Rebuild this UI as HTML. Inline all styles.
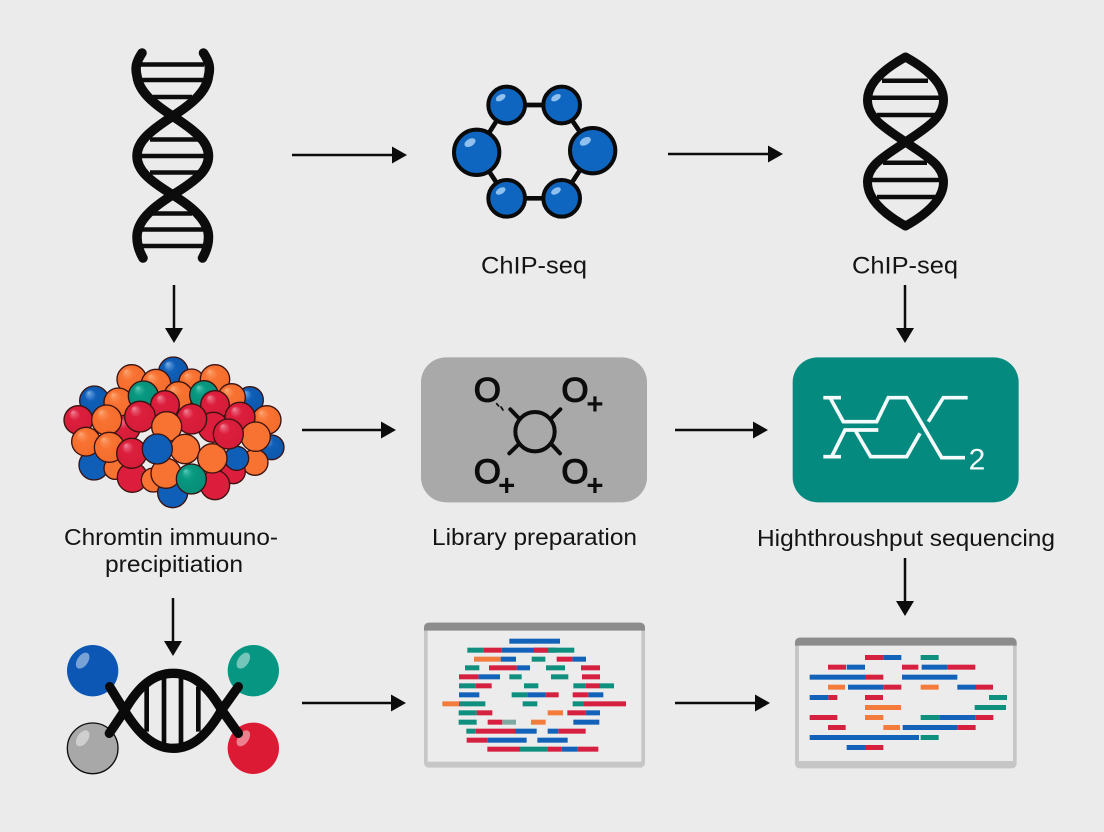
<!DOCTYPE html>
<html lang="en">
<head>
<meta charset="utf-8">
<title>ChIP-seq workflow</title>
<style>
html,body{margin:0;padding:0;background:#ebebeb;}
svg{display:block;}
text{font-family:"Liberation Sans",sans-serif;fill:#141414;}
</style>
</head>
<body>
<svg xmlns="http://www.w3.org/2000/svg" width="1104" height="832" viewBox="0 0 1104 832">
<defs>
<radialGradient id="bl" cx=".5" cy=".5" r=".55" fx=".3" fy=".22"><stop offset="0" stop-color="#7fb0e6"/><stop offset=".16" stop-color="#4a8ad4"/><stop offset=".36" stop-color="#0f5fb8"/><stop offset="1" stop-color="#0c56aa"/></radialGradient>
<radialGradient id="or" cx=".5" cy=".5" r=".55" fx=".3" fy=".22"><stop offset="0" stop-color="#fcab7c"/><stop offset=".18" stop-color="#fa8a4e"/><stop offset=".4" stop-color="#f87232"/><stop offset="1" stop-color="#f46c2c"/></radialGradient>
<radialGradient id="re" cx=".5" cy=".5" r=".55" fx=".3" fy=".22"><stop offset="0" stop-color="#f08a9c"/><stop offset=".16" stop-color="#e65069"/><stop offset=".36" stop-color="#dc1e3c"/><stop offset="1" stop-color="#d41c38"/></radialGradient>
<radialGradient id="gr" cx=".5" cy=".5" r=".55" fx=".3" fy=".22"><stop offset="0" stop-color="#5fd0bc"/><stop offset=".16" stop-color="#2aae98"/><stop offset=".36" stop-color="#089880"/><stop offset="1" stop-color="#068c78"/></radialGradient>
</defs>
<rect width="1104" height="832" fill="#ebebeb"/>

<!-- DNA 1 -->
<g fill="none" stroke="#0c0c0c" stroke-linecap="round">
<g stroke-width="4.500" stroke-linecap="butt">
<path d="M141 64.500H204M140 80H205M153 97H192M150 139.500H198M140 156H205M150 172.500H198M152 213.500H192M141 229.500H205M141 246H205"/>
</g>
<path stroke-width="9.500" d="M142 53C136 62 135 68 137 76C139 92 154 104 172.500 116C197 132 208.500 142 208.500 156C208.500 170 197 180 172.500 195C150 209 137 222 137 237C137 245 139 251 143 258"/>
<path stroke-width="9.500" d="M203.500 53C209.500 62 210.500 68 208.500 76C206.500 92 191.500 104 173 116C148.500 132 137 142 137 156C137 170 148.500 180 173 195C195.500 209 208.500 222 208.500 237C208.500 245 206.500 251 202.500 258"/>
</g>

<!-- Ring -->
<g transform="translate(440 70) scale(.33333)">
<path d="M200 105H365L458 242L365 385H200L110 247Z" fill="none" stroke="#0a0a0a" stroke-width="14"/>
<g fill="#0f66c0" stroke="#0a0a0a" stroke-width="12">
<circle cx="200" cy="105" r="55"/><circle cx="365" cy="105" r="55"/>
<circle cx="110" cy="247" r="68"/><circle cx="458" cy="242" r="68"/>
<circle cx="200" cy="385" r="55"/><circle cx="365" cy="385" r="55"/>
</g>
<g fill="#8fc0ee">
<ellipse cx="182" cy="83" rx="16" ry="9" transform="rotate(-30 182 83)"/>
<ellipse cx="348" cy="83" rx="16" ry="9" transform="rotate(-30 348 83)"/>
<ellipse cx="90" cy="218" rx="18" ry="11" transform="rotate(-30 90 218)"/>
<ellipse cx="436" cy="214" rx="18" ry="11" transform="rotate(-30 436 214)"/>
<ellipse cx="182" cy="363" rx="16" ry="9" transform="rotate(-30 182 363)"/>
<ellipse cx="348" cy="363" rx="16" ry="9" transform="rotate(-30 348 363)"/>
</g>
</g>

<!-- DNA 2 -->
<g fill="none" stroke="#0c0c0c">
<path stroke-width="4.500" d="M882 80.700H928M872 97.700H939M877 115H935M883 162.700H927M872 180H939M877 197H935"/>
<path stroke-width="9" stroke-linejoin="round" d="M905.500 57C882 70 867.500 84 867.500 100C867.500 118 885 128 905.500 142C926 156 943.500 165 943.500 182C943.500 198 929 213 905.500 226C882 213 867.500 198 867.500 182C867.500 165 885 156 905.500 142C926 128 943.500 118 943.500 100C943.500 84 929 70 905.500 57Z"/>
</g>

<!-- Top labels -->
<text x="481" y="273.500" font-size="24" textLength="106" lengthAdjust="spacingAndGlyphs">ChIP-seq</text>
<text x="852" y="273.500" font-size="24" textLength="106" lengthAdjust="spacingAndGlyphs">ChIP-seq</text>

<!-- Cluster -->
<g transform="translate(50 340) scale(.33333)" stroke="#3a1210" stroke-width="4">
<circle cx="370" cy="95" r="44" fill="url(#bl)"/>
<circle cx="245" cy="118" r="44" fill="url(#or)"/>
<circle cx="318" cy="132" r="44" fill="url(#or)"/>
<circle cx="425" cy="125" r="38" fill="url(#or)"/>
<circle cx="495" cy="118" r="44" fill="url(#or)"/>
<circle cx="133" cy="182" r="44" fill="url(#bl)"/>
<circle cx="600" cy="180" r="40" fill="url(#bl)"/>
<circle cx="205" cy="187" r="43" fill="url(#or)"/>
<circle cx="545" cy="172" r="41" fill="url(#or)"/>
<circle cx="385" cy="168" r="43" fill="url(#or)"/>
<circle cx="280" cy="168" r="45" fill="url(#gr)"/>
<circle cx="462" cy="165" r="43" fill="url(#gr)"/>
<circle cx="85" cy="240" r="43" fill="url(#re)"/>
<circle cx="650" cy="240" r="43" fill="url(#or)"/>
<circle cx="665" cy="322" r="37" fill="url(#bl)"/>
<circle cx="132" cy="375" r="45" fill="#0f5fb8"/>
<circle cx="615" cy="367" r="39" fill="#f87232"/>
<circle cx="108" cy="305" r="43" fill="url(#or)"/>
<circle cx="230" cy="265" r="40" fill="url(#re)"/>
<circle cx="345" cy="195" r="43" fill="url(#re)"/>
<circle cx="495" cy="195" r="43" fill="url(#re)"/>
<circle cx="570" cy="232" r="45" fill="url(#re)"/>
<circle cx="170" cy="240" r="45" fill="url(#or)"/>
<circle cx="490" cy="262" r="45" fill="#dc1e3c"/>
<circle cx="195" cy="385" r="33" fill="#f87232"/>
<circle cx="550" cy="395" r="36" fill="#dc1e3c"/>
<circle cx="560" cy="355" r="36" fill="#0f5fb8"/>
<circle cx="247" cy="412" r="45" fill="#dc1e3c"/>
<circle cx="310" cy="420" r="36" fill="#f87232"/>
<circle cx="368" cy="458" r="45" fill="#0f5fb8"/>
<circle cx="495" cy="435" r="44" fill="#dc1e3c"/>
<circle cx="178" cy="322" r="45" fill="url(#or)"/>
<circle cx="270" cy="230" r="46" fill="url(#re)"/>
<circle cx="425" cy="237" r="45" fill="url(#re)"/>
<circle cx="350" cy="260" r="45" fill="#f87232"/>
<circle cx="348" cy="400" r="45" fill="#f87232"/>
<circle cx="405" cy="327" r="44" fill="#f87232"/>
<circle cx="487" cy="355" r="44" fill="#f87232"/>
<circle cx="245" cy="340" r="45" fill="url(#re)"/>
<circle cx="322" cy="327" r="45" fill="#0f5fb8"/>
<circle cx="424" cy="417" r="45" fill="url(#gr)"/>
<circle cx="617" cy="290" r="44" fill="#f87232"/>
<circle cx="535" cy="282" r="45" fill="url(#re)"/>
</g>

<!-- Library box -->
<g transform="translate(410 350) scale(.33333)">
<rect x="33" y="22" width="678" height="435" rx="75" fill="#a9a9a9"/>
<g fill="none" stroke="#0c0c0c" stroke-width="12" stroke-linecap="round">
<circle cx="375" cy="245" r="59"/>
<path d="M301 178L326 204M451 178L425 204M298 310L326 283M450 310L425 283"/>
<path stroke-width="5" d="M260 161L266 168M273 171L279 180"/>
</g>
<g font-size="104" text-anchor="middle">
<text x="232" y="154" style="fill:#0c0c0c" stroke="#0c0c0c" stroke-width="4">O</text>
<text x="495" y="154" style="fill:#0c0c0c" stroke="#0c0c0c" stroke-width="4">O</text>
<text x="232" y="399" style="fill:#0c0c0c" stroke="#0c0c0c" stroke-width="4">O</text>
<text x="495" y="399" style="fill:#0c0c0c" stroke="#0c0c0c" stroke-width="4">O</text>
<text x="555" y="192" font-size="88" font-weight="bold" style="fill:#0c0c0c">+</text>
<text x="290" y="437" font-size="88" font-weight="bold" style="fill:#0c0c0c">+</text>
<text x="555" y="437" font-size="88" font-weight="bold" style="fill:#0c0c0c">+</text>
</g>
</g>

<!-- Teal box -->
<g transform="translate(780 350) scale(.33333)">
<rect x="38" y="22" width="678" height="435" rx="75" fill="#058a80"/>
<g fill="none" stroke="#f4fbfa" stroke-width="11">
<path d="M130 143H183M150 143L190 215H290L325 143H380L485 323H555"/>
<path d="M130 320H183M155 320L195 240H295M225 240L272 320H380L420 250M445 215L490 143H563"/>
</g>
<text x="566" y="358" font-size="90" style="fill:#f4fbfa">2</text>
</g>

<!-- Middle labels -->
<text x="64" y="545" font-size="23.500" textLength="214" lengthAdjust="spacingAndGlyphs">Chromtin immuuno-</text>
<text x="105" y="572" font-size="23.500" textLength="138" lengthAdjust="spacingAndGlyphs">precipitiation</text>
<text x="432" y="545" font-size="23.500" textLength="205" lengthAdjust="spacingAndGlyphs">Library preparation</text>
<text x="757" y="546" font-size="23.500" textLength="298" lengthAdjust="spacingAndGlyphs">Highthroushput sequencing</text>

<!-- Bottom-left helix -->
<g transform="translate(50 630) scale(.33333)">
<circle cx="128" cy="122" r="77" fill="#0c56b4"/>
<circle cx="610" cy="122" r="77" fill="#069682"/>
<circle cx="128" cy="355" r="76" fill="#a8a8a8" stroke="#0c0c0c" stroke-width="4"/>
<circle cx="610" cy="355" r="77" fill="#dd1a34"/>
<g fill="#fff" opacity=".45">
<ellipse cx="98" cy="92" rx="16" ry="27" transform="rotate(35 98 92)"/>
<ellipse cx="580" cy="92" rx="16" ry="27" transform="rotate(35 580 92)"/>
<ellipse cx="98" cy="325" rx="16" ry="27" transform="rotate(35 98 325)"/>
<ellipse cx="580" cy="325" rx="16" ry="27" transform="rotate(35 580 325)"/>
</g>
<g fill="none" stroke="#0a0a0a" stroke-linecap="round">
<path stroke-width="14" d="M290 170V305M342 140V345M393 140V345M445 170V305" stroke-linecap="butt"/>
<path stroke-width="28" d="M179 170L222 240C265 310 310 355 370 355C430 355 475 310 515 240L565 170"/>
<path stroke-width="28" d="M178 310L225 240C265 170 310 130 370 130C430 130 475 170 515 240L565 310"/>
</g>
</g>

<!-- Window 1 -->
<g transform="translate(410 610) scale(.33333)">
<rect x="42" y="38" width="663" height="435" rx="14" fill="#c6c6c6"/>
<rect x="53" y="60" width="641" height="395" fill="#ececec"/>
<path d="M42 62V52A14 14 0 0 1 56 38H691A14 14 0 0 1 705 52V62Z" fill="#8c8c8c"/>
<g fill="#1162b8">
<rect x="298" y="86" width="152" height="15"/>
<rect x="275" y="113" width="165" height="15"/>
<rect x="272" y="140" width="46" height="15"/><rect x="487" y="140" width="41" height="15"/>
<rect x="320" y="166" width="40" height="15"/>
<rect x="205" y="193" width="65" height="15"/>
<rect x="147" y="247" width="61" height="15"/><rect x="352" y="247" width="55" height="15"/><rect x="535" y="247" width="45" height="15"/>
<rect x="527" y="301" width="43" height="15"/>
<rect x="490" y="329" width="78" height="15"/>
<rect x="315" y="356" width="65" height="15"/><rect x="413" y="356" width="32" height="15"/>
<rect x="233" y="383" width="117" height="15"/><rect x="382" y="383" width="91" height="15"/>
<rect x="455" y="410" width="48" height="15"/>
</g>
<g fill="#d6203f">
<rect x="220" y="113" width="55" height="15"/><rect x="372" y="113" width="43" height="15"/>
<rect x="440" y="140" width="47" height="15"/>
<rect x="237" y="166" width="83" height="15"/><rect x="513" y="166" width="57" height="15"/>
<rect x="147" y="193" width="58" height="15"/><rect x="516" y="193" width="54" height="15"/>
<rect x="197" y="220" width="48" height="15"/><rect x="527" y="220" width="43" height="15"/>
<rect x="407" y="247" width="39" height="15"/><rect x="488" y="247" width="47" height="15"/>
<rect x="522" y="274" width="126" height="15"/>
<rect x="200" y="301" width="47" height="15"/><rect x="472" y="301" width="55" height="15"/>
<rect x="233" y="329" width="44" height="15"/>
<rect x="197" y="356" width="118" height="15"/><rect x="445" y="356" width="82" height="15"/>
<rect x="170" y="383" width="63" height="15"/>
<rect x="232" y="410" width="98" height="15"/><rect x="412" y="410" width="43" height="15"/><rect x="503" y="410" width="62" height="15"/>
</g>
<g fill="#0f8f7d">
<rect x="172" y="113" width="48" height="15"/><rect x="415" y="113" width="78" height="15"/>
<rect x="365" y="140" width="41" height="15"/>
<rect x="165" y="166" width="43" height="15"/><rect x="408" y="166" width="57" height="15"/>
<rect x="298" y="193" width="37" height="15"/><rect x="423" y="193" width="52" height="15"/>
<rect x="147" y="220" width="50" height="15"/><rect x="342" y="220" width="43" height="15"/><rect x="490" y="220" width="37" height="15"/><rect x="570" y="220" width="42" height="15"/>
<rect x="305" y="247" width="47" height="15"/>
<rect x="147" y="274" width="79" height="15"/><rect x="338" y="274" width="44" height="15"/><rect x="488" y="274" width="34" height="15"/>
<rect x="146" y="301" width="54" height="15"/>
<rect x="146" y="329" width="54" height="15"/>
<rect x="169" y="356" width="28" height="15"/>
<rect x="330" y="410" width="82" height="15"/>
</g>
<g fill="#f37c3c">
<rect x="192" y="140" width="80" height="15"/>
<rect x="97" y="274" width="50" height="15"/>
<rect x="413" y="301" width="46" height="15"/>
<rect x="363" y="329" width="44" height="15"/>
</g>
<rect x="277" y="329" width="41" height="15" fill="#7fa8a0"/>
</g>

<!-- Window 2 -->
<g transform="translate(785 625) scale(.33333)">
<rect x="30" y="38" width="665" height="392" rx="14" fill="#c6c6c6"/>
<rect x="42" y="60" width="642" height="348" fill="#ececec"/>
<path d="M30 62V52A14 14 0 0 1 44 38H681A14 14 0 0 1 695 52V62Z" fill="#8c8c8c"/>
<g fill="#1162b8">
<rect x="295" y="90" width="54" height="15"/>
<rect x="185" y="119" width="55" height="15"/><rect x="410" y="119" width="77" height="15"/>
<rect x="74" y="149" width="166" height="15"/><rect x="351" y="149" width="166" height="15"/>
<rect x="189" y="179" width="106" height="15"/><rect x="517" y="179" width="56" height="15"/>
<rect x="74" y="210" width="56" height="15"/>
<rect x="463" y="270" width="108" height="15"/>
<rect x="353" y="300" width="164" height="15"/>
<rect x="74" y="330" width="328" height="15"/>
<rect x="185" y="360" width="55" height="15"/>
</g>
<g fill="#d6203f">
<rect x="240" y="90" width="55" height="15"/>
<rect x="129" y="119" width="54" height="15"/><rect x="351" y="119" width="49" height="15"/><rect x="487" y="119" width="84" height="15"/>
<rect x="240" y="149" width="55" height="15"/>
<rect x="295" y="179" width="54" height="15"/><rect x="573" y="179" width="51" height="15"/>
<rect x="130" y="210" width="27" height="15"/><rect x="240" y="210" width="54" height="15"/>
<rect x="74" y="270" width="83" height="15"/><rect x="571" y="270" width="54" height="15"/>
<rect x="129" y="300" width="53" height="15"/><rect x="517" y="300" width="55" height="15"/>
<rect x="240" y="360" width="55" height="15"/>
</g>
<g fill="#0f8f7d">
<rect x="407" y="90" width="54" height="15"/>
<rect x="612" y="210" width="54" height="15"/>
<rect x="569" y="240" width="94" height="15"/>
<rect x="407" y="270" width="56" height="15"/>
<rect x="407" y="330" width="54" height="15"/>
</g>
<g fill="#f37c3c">
<rect x="129" y="179" width="51" height="15"/><rect x="407" y="179" width="54" height="15"/>
<rect x="240" y="240" width="108" height="15"/>
<rect x="240" y="270" width="55" height="15"/>
<rect x="295" y="300" width="50" height="15"/>
</g>
</g>

<!-- Arrows -->
<g stroke="#0c0c0c" stroke-width="2.500" fill="none">
<path d="M292 155H395M668 154H771M302 430H384M675 430H756M302 703H394M675 703H758M174 285V330M905 285V330M173 598V643M905 558V603"/>
</g>
<g fill="#0c0c0c">
<polygon points="407,155 392,146.500 392,163.500"/>
<polygon points="783,154 768,145.500 768,162.500"/>
<polygon points="396,430 381,421.500 381,438.500"/>
<polygon points="768,430 753,421.500 753,438.500"/>
<polygon points="406,703 391,694.500 391,711.500"/>
<polygon points="770,703 755,694.500 755,711.500"/>
<polygon points="174,343 165,328 183,328"/>
<polygon points="905,343 896,328 914,328"/>
<polygon points="173,656 164,641 182,641"/>
<polygon points="905,616 896,601 914,601"/>
</g>
</svg>
</body>
</html>
